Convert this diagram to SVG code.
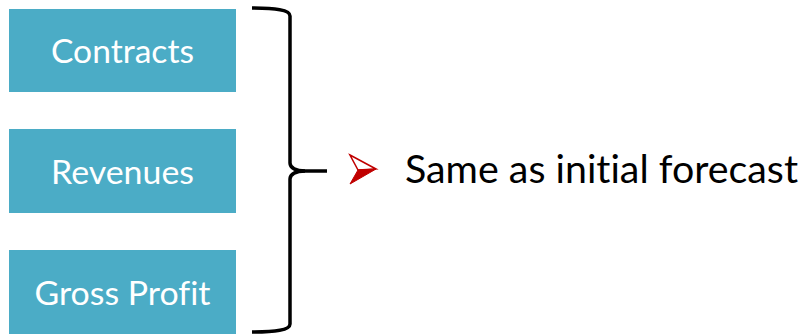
<svg xmlns="http://www.w3.org/2000/svg" width="803" height="335" viewBox="0 0 803 335">
<style>
.box{fill:#4BACC6;}
.lbl{font-family:"Lato","Liberation Sans",sans-serif;font-size:32px;fill:#fff;text-anchor:middle;font-variant-ligatures:none;}
.main{font-family:"Lato","Liberation Sans",sans-serif;font-size:39px;fill:#000;font-variant-ligatures:none;}
.brace{fill:none;stroke:#000;stroke-width:3.5;stroke-linecap:butt;}
</style>
<rect width="803" height="335" fill="#fff"/>
<g id="node-contracts">
<rect class="box" x="9" y="9" width="227" height="83"/>
<text class="lbl" x="122.5" y="63" textLength="143" lengthAdjust="spacingAndGlyphs">Contracts</text>
</g>
<g id="node-revenues">
<rect class="box" x="9" y="129" width="227" height="84"/>
<text class="lbl" x="122.5" y="184" textLength="143" lengthAdjust="spacingAndGlyphs">Revenues</text>
</g>
<g id="node-grossprofit">
<rect class="box" x="9" y="250" width="227" height="84"/>
<text class="lbl" x="122.5" y="305" textLength="176" lengthAdjust="spacingAndGlyphs">Gross Profit</text>
</g>
<g id="connectors">
<path class="brace" d="M252,8 C275,8 290,10 290,16 L290,163 C290,168 296,171 305,171 C296,171 290,174 290,179 L290,324 C290,330 275,332 252,332"/>
<path class="brace" d="M303,171 L327,171"/>
</g>
<g id="node-forecast">
<path d="M350,155 L376,169 L358,170 Z" fill="#fff" stroke="#C00000" stroke-width="1.5" stroke-linejoin="miter"/>
<path d="M358,170 L376,169 L350,184 Z" fill="#C00000" stroke="#C00000" stroke-width="1"/>
<text class="main" x="405" y="183" textLength="393" lengthAdjust="spacingAndGlyphs">Same as initial forecast</text>
</g>
</svg>
